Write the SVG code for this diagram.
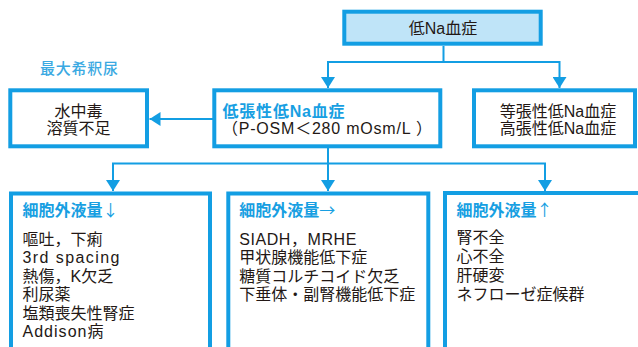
<svg xmlns="http://www.w3.org/2000/svg" width="638" height="347" viewBox="0 0 638 347">
<style>
.box{fill:#fff;stroke:#139ee3;stroke-width:4}
.top{fill:#bfe4f8;stroke:#139ee3;stroke-width:4}
.con{fill:none;stroke:#139ee3;stroke-width:2}
text{font-family:"Liberation Sans","Noto Sans CJK JP",sans-serif;font-size:16px;fill:#231815}
.hd{font-weight:bold;fill:#189fe2}
.ar{font-family:"Noto Sans CJK JP",sans-serif;font-weight:normal}
.lbl{font-size:15px;fill:#3aa9e2;font-weight:500}
.c{text-anchor:middle}
</style>
<defs>
<marker id="ah" viewBox="0 0 11 14" refX="11" refY="7" markerWidth="11" markerHeight="14" markerUnits="userSpaceOnUse" orient="auto">
<path d="M0,0 L11,7 L0,14 z" fill="#139ee3"/>
</marker>
</defs>
<g id="connectors">
<path class="con" d="M443.5,46 V62 H328 V88" marker-end="url(#ah)"/>
<path class="con" d="M443.5,62 H559.5 V88" marker-end="url(#ah)"/>
<path class="con" d="M213,119 H149.5" marker-end="url(#ah)"/>
<path class="con" d="M328,148 V191" marker-end="url(#ah)"/>
<path class="con" d="M328,163.5 H113 V191" marker-end="url(#ah)"/>
<path class="con" d="M328,163.5 H545 V191" marker-end="url(#ah)"/>
</g>
<g id="label-dilute">
<text class="lbl" x="40" y="73.5" textLength="78">最大希釈尿</text>
</g>
<g id="node-hyponatremia">
<rect class="top" x="344.3" y="11.7" width="196.4" height="32"/>
<text class="c" x="443" y="34">低Na血症</text>
</g>
<g id="node-hypotonic">
<rect class="box" x="214.3" y="90.3" width="226" height="56"/>
<text class="hd" x="222.5" y="116.5" textLength="122">低張性低Na血症</text>
<text x="222" y="134" textLength="210">（P-OSM＜280 mOsm/L ）</text>
</g>
<g id="node-water">
<rect class="box" x="10.3" y="90.3" width="136.7" height="56"/>
<text class="c" x="78.5" y="117">水中毒</text>
<text class="c" x="78.5" y="134">溶質不足</text>
</g>
<g id="node-isohyper">
<rect class="box" x="474" y="90.3" width="161" height="56"/>
<text class="c" x="558" y="116.5">等張性低Na血症</text>
<text class="c" x="558" y="133.5">高張性低Na血症</text>
</g>
<g id="node-ecf-low">
<rect class="box" x="11" y="193.5" width="199" height="200"/>
<text class="hd" x="22.5" y="216">細胞外液量<tspan class="ar" fill="#189fe2">↓</tspan></text>
<text x="22.5" y="244.5">嘔吐，下痢</text>
<text x="22.5" y="263" textLength="97">3rd spacing</text>
<text x="22.5" y="281.5">熱傷，K欠乏</text>
<text x="22.5" y="300">利尿薬</text>
<text x="22.5" y="318.5">塩類喪失性腎症</text>
<text x="22.5" y="337" textLength="81">Addison病</text>
</g>
<g id="node-ecf-normal">
<rect class="box" x="228.3" y="193.5" width="200" height="200"/>
<text class="hd" x="239.3" y="216">細胞外液量<tspan class="ar" fill="#189fe2">→</tspan></text>
<text x="239.3" y="244.5" textLength="117">SIADH，MRHE</text>
<text x="239.3" y="263">甲状腺機能低下症</text>
<text x="239.3" y="281.5">糖質コルチコイド欠乏</text>
<text x="239.3" y="300">下垂体・副腎機能低下症</text>
</g>
<g id="node-ecf-high">
<rect class="box" x="445" y="193" width="250" height="200"/>
<text class="hd" x="456.5" y="216">細胞外液量<tspan class="ar" fill="#189fe2">↑</tspan></text>
<text x="456.5" y="243">腎不全</text>
<text x="456.5" y="262">心不全</text>
<text x="456.5" y="281">肝硬変</text>
<text x="456.5" y="300">ネフローゼ症候群</text>
</g>
</svg>
